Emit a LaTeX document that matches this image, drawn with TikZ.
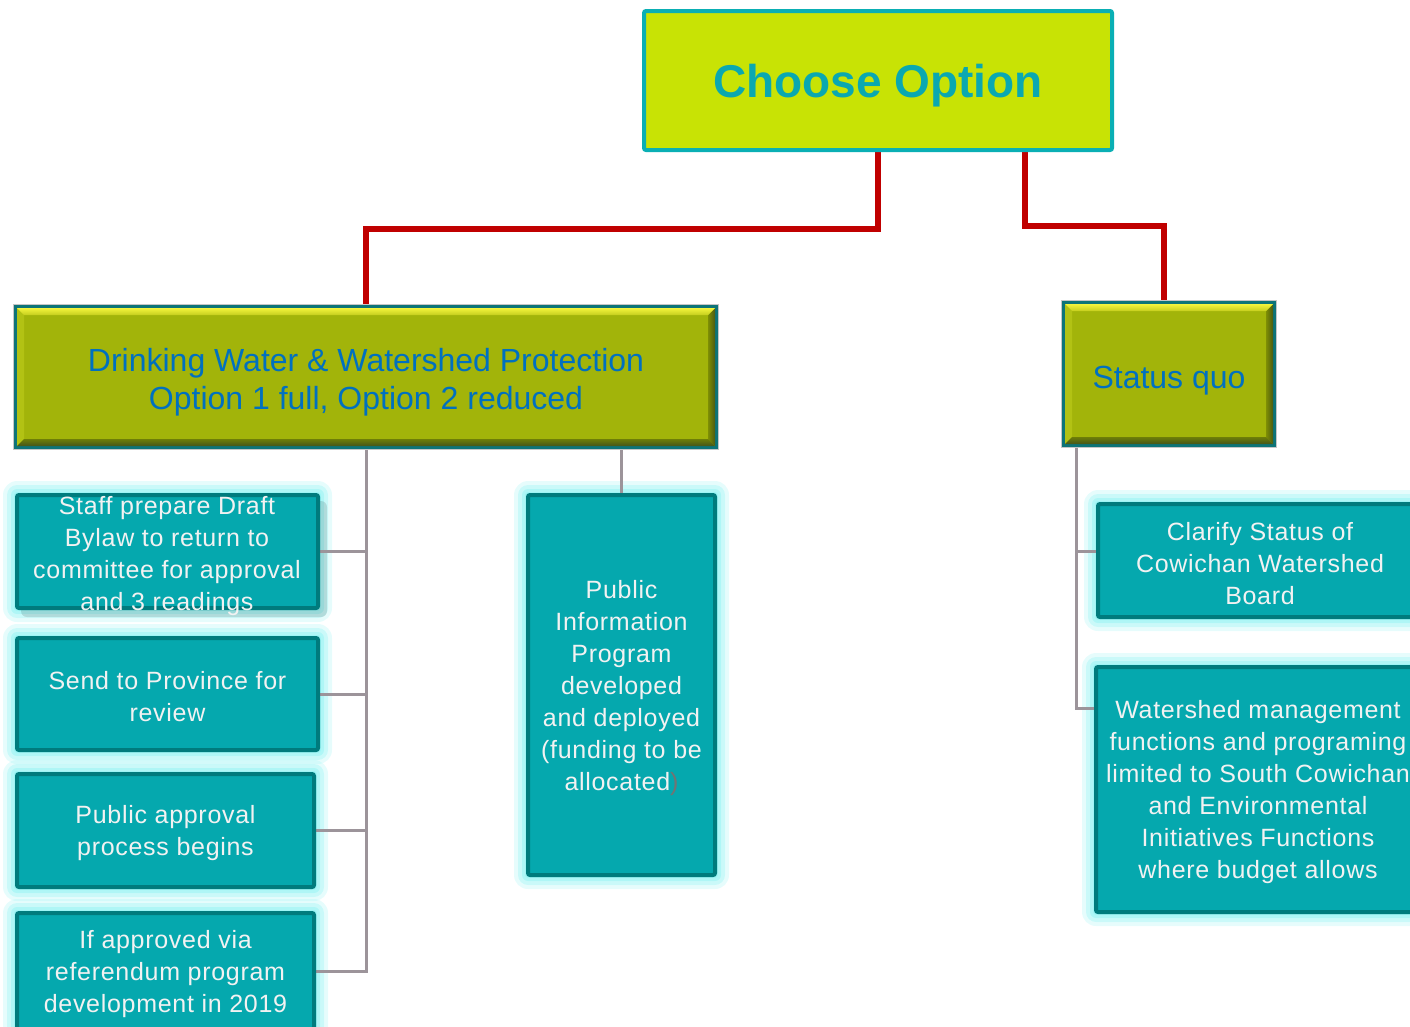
\documentclass[tikz,border=0pt]{standalone}
\usepackage{fontspec}
\setmainfont{Liberation Sans}
\newfontfamily\stepfont[LetterSpace=2.8]{Liberation Sans}
\usetikzlibrary{calc}

\definecolor{topfill}{HTML}{C8E305}
\definecolor{topborder}{HTML}{0AAFB4}
\definecolor{toptext}{HTML}{0AA8B0}
\definecolor{olivefill}{HTML}{A2B40A}
\definecolor{oliveborder}{HTML}{0D7478}
\definecolor{bluetext}{HTML}{0070C0}
\definecolor{tealfill}{HTML}{05A8AE}
\definecolor{tealborder}{HTML}{007B7D}
\definecolor{lighttext}{HTML}{F2F2F2}
\definecolor{glowc}{HTML}{8EF3F3}
\definecolor{redc}{HTML}{C00000}
\definecolor{grayc}{HTML}{9C949A}
\definecolor{bevhi}{HTML}{F4F43C}
\definecolor{bevhitwo}{HTML}{C4CE1E}
\definecolor{bevleft}{HTML}{B2C214}
\definecolor{bevrone}{HTML}{7E8E04}
\definecolor{bevrtwo}{HTML}{4C5A12}
\definecolor{bevbone}{HTML}{6E7E08}
\definecolor{bevbtwo}{HTML}{46561A}

\pgfdeclarelayer{glowlayer}
\pgfdeclarelayer{linelayer}
\pgfsetlayers{glowlayer,linelayer,main}

% soft cyan halo around a box
\newcommand\glowbox[1]{%
  \foreach \w/\o in {14/0.22,10/0.32,6/0.45,3/0.55}{%
    \fill[glowc,opacity=\o,rounded corners=\w pt]
      ($(#1.south west)+(-\w,\w)$) rectangle ($(#1.north east)+(\w,-\w)$);}}

% raised bevel on the olive boxes
\newcommand\bevel[2]{%
  \coordinate (p1) at ($(#1.north west)+(1.5,1.5)$);
  \coordinate (p2) at ($(#1.north east)+(-1.5,1.5)$);
  \coordinate (p3) at ($(#1.south east)+(-1.5,-1.5)$);
  \coordinate (p4) at ($(#1.south west)+(1.5,-1.5)$);
  \coordinate (q1) at ($(p1)+(#2,#2)$);
  \coordinate (q2) at ($(p2)+(-#2,#2)$);
  \coordinate (q3) at ($(p3)+(-#2,-#2)$);
  \coordinate (q4) at ($(p4)+(#2,-#2)$);
  \fill[bevleft] (p1)--(q1)--(q4)--(p4)--cycle;
  \shade[left color=bevrone,right color=bevrtwo] (p2)--(p3)--(q3)--(q2)--cycle;
  \shade[top color=bevbone,bottom color=bevbtwo] (p4)--(q4)--(q3)--(p3)--cycle;
  \shade[top color=bevhi,bottom color=bevhitwo] (p1)--(p2)--(q2)--(q1)--cycle;
  \draw[gray!45,line width=1pt] ($(#1.north west)+(-2,-2)$) rectangle ($(#1.south east)+(2,2)$);}

\begin{document}
\begin{tikzpicture}[x=1pt,y=-1pt,
  topbox/.style={draw=topborder,line width=4pt,fill=topfill,rounded corners=2pt,
    inner sep=0pt,outer sep=0pt,text=toptext,text height=33pt,text depth=0pt,
    font=\fontsize{46}{52}\selectfont\bfseries},
  olivebox/.style={draw=oliveborder,line width=3pt,fill=olivefill,
    inner sep=0pt,outer sep=0pt},
  olivetxt/.style={inner sep=0pt,text=bluetext,align=center,
    font=\fontsize{32}{38}\selectfont},
  tealbox/.style={draw=tealborder,line width=4pt,fill=tealfill,rounded corners=2pt,
    inner sep=0pt,outer sep=0pt},
  boxtxt/.style={inner sep=0pt,text=lighttext,align=center,
    font=\stepfont\fontsize{25}{32}\selectfont},
  steptext/.style={label={[boxtxt,yshift=-3pt]center:{#1}}},
  redline/.style={draw=redc,line width=6.5pt},
  grayline/.style={draw=grayc,line width=3pt}]

\useasboundingbox (0,0) rectangle (1410,1026);

\begin{scope}
\clip (0,0) rectangle (1410,1026);
% top decision
\node[topbox,minimum width=468,minimum height=139] (choose) at (878,80.5) {Choose Option};

% the two options
\node[olivebox,minimum width=701,minimum height=141] (dw) at (366,377) {};
\bevel{dw}{7}
\node[olivetxt] (dwt) at (366,382) {Drinking Water \& Watershed Protection\\Option 1 full, Option 2 reduced};

\node[olivebox,minimum width=211,minimum height=143] (sq) at (1169,374) {};
\bevel{sq}{7}
\node[olivetxt] (sqt) at (1169,381) {Status quo};

% steps under option 1
\node[tealbox,minimum width=301,minimum height=113] (b1) at (167.5,551.5) {};
\node[boxtxt] (b1t) at (167,556) {Staff prepare Draft\\Bylaw to return to\\committee for approval\\and 3 readings};
\node[tealbox,minimum width=301,minimum height=112,
  steptext={Send to Province for\\review}] (b2) at (167.5,694) {};
\node[tealbox,minimum width=297,minimum height=113,
  steptext={Public approval\\process begins}] (b3) at (165.5,830.5) {};
\node[tealbox,minimum width=297,minimum height=116,
  steptext={If approved via\\referendum program\\development in 2019}] (b4) at (165.5,971) {};
\node[tealbox,minimum width=187,minimum height=380,
  steptext={Public\\Information\\Program\\developed\\and deployed\\(funding to be\\allocated{\color{gray!90!black})}}] (pip) at (621.5,685) {};

% steps under status quo
\node[tealbox,minimum width=324,minimum height=113,
  steptext={Clarify Status of\\Cowichan Watershed\\Board}] (cl) at (1260,560.5) {};
\node[tealbox,minimum width=324,minimum height=245,
  steptext={Watershed management\\functions and programing\\limited to South Cowichan\\and Environmental\\Initiatives Functions\\where budget allows}] (ws) at (1258,789.5) {};
\end{scope}

% halos behind the step boxes
\begin{pgfonlayer}{glowlayer}
\begin{scope}
\clip (0,0) rectangle (1410,1026);
\foreach \b in {b1,b2,b3,b4,pip,cl,ws}{\glowbox{\b}}
\fill[black,opacity=0.12,rounded corners=6pt] ($(b1.south west)+(4,9)$) rectangle ($(b1.north east)+(9,6)$);
\end{scope}
\end{pgfonlayer}

% connectors
\begin{pgfonlayer}{linelayer}
\draw[redline] (choose.south) -- ++(0,79) -| (dw.north);
\draw[redline] ($(choose.south)+(147,0)$) -- ++(0,76) -| ($(sq.north)+(-5,0)$);

\draw[grayline] (dw.south) |- (b4.east);
\foreach \b in {b1,b2,b3}{\draw[grayline] (\b.east) -- (\b.east -| dw.south);}
\draw[grayline] (pip.north) -- (pip.north |- dw.south);

\coordinate (srt) at ($(sq.south west)+(12.5,0)$);
\draw[grayline] (srt) |- ($(ws.north west)+(0,41)$);
\draw[grayline] (srt) |- ($(cl.north west)+(0,47)$);
\end{pgfonlayer}
\end{tikzpicture}
\end{document}
